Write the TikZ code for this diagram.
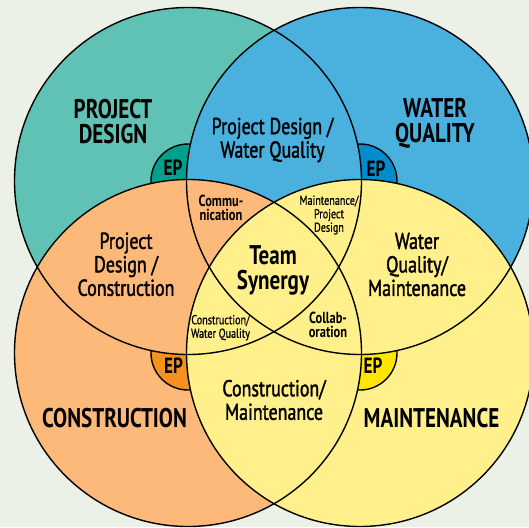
\documentclass[tikz,border=0pt]{standalone}
\usepackage{fontspec}
\setmainfont{PT Sans}[FakeStretch=0.78]
\newfontfamily\semib{PT Sans}[FakeStretch=0.78, FakeBold=1.6]
\newfontfamily\medf{PT Sans}[FakeStretch=0.78, FakeBold=0.8]
\definecolor{bgc}{RGB}{236,241,232}
\definecolor{tealc}{RGB}{95,194,180}
\definecolor{bluec}{RGB}{74,176,222}
\definecolor{orangec}{RGB}{253,185,122}
\definecolor{yellowc}{RGB}{255,240,140}
\definecolor{tealep}{RGB}{0,160,140}
\definecolor{blueep}{RGB}{0,140,205}
\definecolor{orangeep}{RGB}{245,145,30}
\definecolor{yellowep}{RGB}{255,230,0}
\tikzset{
  lbl/.style={align=center, inner sep=0pt, text=black},
  title/.style={lbl, font=\bfseries\fontsize{27}{25}\selectfont},
  pair/.style={lbl, font=\semib\fontsize{23}{23.5}\selectfont},
  core/.style={lbl, font=\bfseries\fontsize{27}{25}\selectfont},
  small/.style={lbl, font=\bfseries\fontsize{16}{14.5}\selectfont},
  tiny/.style={lbl, font=\medf\fontsize{13}{13.5}\selectfont},
  eplbl/.style={lbl, font=\bfseries\fontsize{22}{22}\selectfont},
  outline/.style={draw=black, line width=1.4pt}
}
\begin{document}
\begin{tikzpicture}[x=1pt,y=-1pt]
\useasboundingbox (0,0) rectangle (529,527);
\fill[bgc] (0,0) rectangle (529,527);
\coordinate (cA) at (188,181);
\coordinate (cB) at (360,181);
\coordinate (cC) at (188,353);
\coordinate (cD) at (360,353);
\def\R{173.5}
\def\r{37}
% teal
\fill[tealc] (cA) circle[radius=\R];
\filldraw[outline, fill=tealep] (cA) circle[radius=\r];
% blue
\fill[bluec] (cB) circle[radius=\R];
\filldraw[outline, fill=blueep] (cB) circle[radius=\r];
\begin{scope}
  \clip (cA) circle[radius=\R];
  \fill[bluec] (cB) circle[radius=\R];
\end{scope}
% orange
\fill[orangec] (cC) circle[radius=\R];
\filldraw[outline, fill=orangeep] (cC) circle[radius=\r];
\begin{scope}
  \clip (cA) circle[radius=\R];
  \fill[orangec] (cC) circle[radius=\R];
\end{scope}
% yellow
\fill[yellowc] (cD) circle[radius=\R];
\filldraw[outline, fill=yellowep] (cD) circle[radius=\r];
\begin{scope}
  \clip (cC) circle[radius=\R];
  \fill[yellowc] (cD) circle[radius=\R];
\end{scope}
\begin{scope}
  \clip (cB) circle[radius=\R];
  \fill[yellowc] (cD) circle[radius=\R];
\end{scope}
% outlines
\draw[outline] (cA) circle[radius=\R];
\draw[outline] (cB) circle[radius=\R];
\draw[outline] (cC) circle[radius=\R];
\draw[outline] (cD) circle[radius=\R];
% labels
\node[title] (pd) at (113,121.5) {PROJECT\\DESIGN};
\node[title] (wq) at (435,123.5) {WATER\\QUALITY};
\node[title] (co) at (114.5,417.7) {CONSTRUCTION};
\node[title] (ma) at (431.5,417.7) {MAINTENANCE};
\node[pair] (pdwq) at (272.5,140) {Project Design /\\Water Quality};
\node[pair] (pdco) at (126,264.3) {Project\\Design /\\Construction};
\node[pair] (wqma) at (417,264.5) {Water\\Quality/\\Maintenance};
\node[pair] (coma) at (274,400) {Construction/\\Maintenance};
\node[core] (ts) at (273,270.8) {Team\\Synergy};
\node[small] (comm) at (221,208) {Commu-\\nication};
\node[small] (coll) at (328,324.7) {Collab-\\oration};
\node[tiny] (mapd) at (329,215) {Maintenance/\\Project\\Design};
\node[tiny] (cowq) at (220.5,327.7) {Construction/\\Water Quality};
\node[eplbl] (ep1) at (173,167.5) {EP};
\node[eplbl] (ep2) at (376,168.5) {EP};
\node[eplbl] (ep3) at (173.5,366) {EP};
\node[eplbl] (ep4) at (373,366) {EP};
\end{tikzpicture}
\end{document}
